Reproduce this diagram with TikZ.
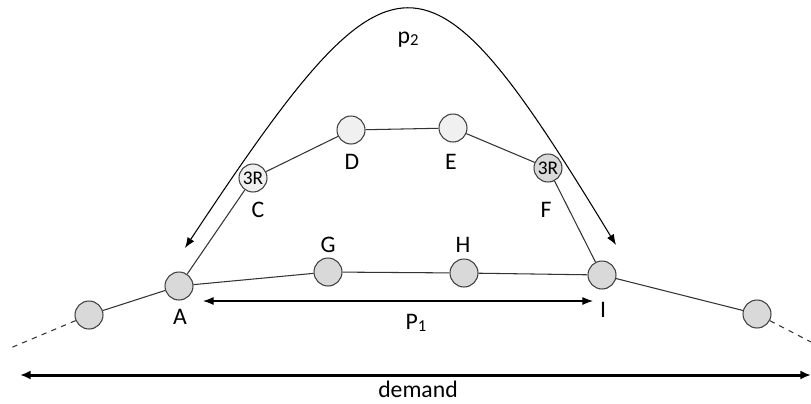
\documentclass[tikz,border=0pt]{standalone}
\usepackage{fontspec}
\setmainfont{Carlito}
\usepackage{tikz}
\usetikzlibrary{arrows.meta,positioning,calc}

\definecolor{stopfill}{HTML}{D9D9D9}
\definecolor{stoplight}{HTML}{F0F0F0}
\definecolor{stopline}{HTML}{404040}

\newcommand{\lowidx}[1]{\raisebox{-0.8pt}{\fontsize{9.5}{10}\selectfont #1}}

\tikzset{
  stop/.style={circle, draw=stopline, line width=0.6pt, fill=stopfill,
    minimum size=0.56cm, inner sep=0pt, font=\fontsize{11}{12}\selectfont},
  stoplt/.style={stop, fill=stoplight},
  lbl/.style={font=\fontsize{13.5}{15}\selectfont},
  link/.style={draw=black!80, line width=0.6pt},
  tips/.style={{Latex[length=6pt,width=4.5pt]}-{Latex[length=6pt,width=4.5pt]}, line width=0.6pt}
}

\begin{document}
\begin{tikzpicture}[x=0.02cm, y=-0.02cm]
  \useasboundingbox (0,0) rectangle (811,403);

  % Stops on the line
  \node[stop] (l) at (89,315) {};
  \node[stop] (a) at (179,286) {};
  \node[stop] (g) at (328,272) {};
  \node[stop] (h) at (464,273) {};
  \node[stop] (i) at (602,275) {};
  \node[stop] (r) at (757,314) {};

  % Upper branch
  \node[stoplt] (c) at (253,178) {3R};
  \node[stoplt] (d) at (351,130) {};
  \node[stoplt] (e) at (453,128) {};
  \node[stop]   (f) at (548,168) {3R};

  % Open ends
  \coordinate (lend) at (8,349);
  \coordinate (rend) at (811,342);

  % Links
  \draw[link] (l) -- (a) -- (g) -- (h) -- (i) -- (r);
  \draw[link] (a) -- (c) -- (d) -- (e) -- (f) -- (i);
  \draw[link, dashed] (l) -- (lend);
  \draw[link, dashed] (r) -- (rend);

  % Labels
  \node[lbl] (la) at (180,317) {A};
  \node[lbl] (lg) at (328,245) {G};
  \node[lbl] (lh) at (463,245) {H};
  \node[lbl] (li) at (603,310) {I};
  \node[lbl] (lc) at (258,210) {C};
  \node[lbl] (ld) at (352,162) {D};
  \node[lbl] (le) at (451,162) {E};
  \node[lbl] (lf) at (546,210) {F};

  % Path p2 over the top
  \coordinate (p2l) at (185,248);
  \coordinate (p2r) at (616,245);
  \draw[tips] (p2l) .. controls (395,-69) and (425,-69) .. (p2r);
  \node[lbl] (lp2) at (408,40) {p\lowidx{2}};

  % Path p1 below
  \coordinate (p1l) at (203,301);
  \coordinate (p1r) at (593,301);
  \draw[tips] (p1l) -- (p1r);
  \node[lbl] (lp1) at (416,323) {P\lowidx{1}};

  % Demand
  \coordinate (dl) at (20,375);
  \coordinate (dr) at (811,375);
  \draw[line width=1.7pt, {Latex[length=6pt,width=5pt]}-{Latex[length=6pt,width=5pt]}] (dl) -- (dr);
  \node[lbl] (ldem) at (418,389) {demand};
\end{tikzpicture}
\end{document}
